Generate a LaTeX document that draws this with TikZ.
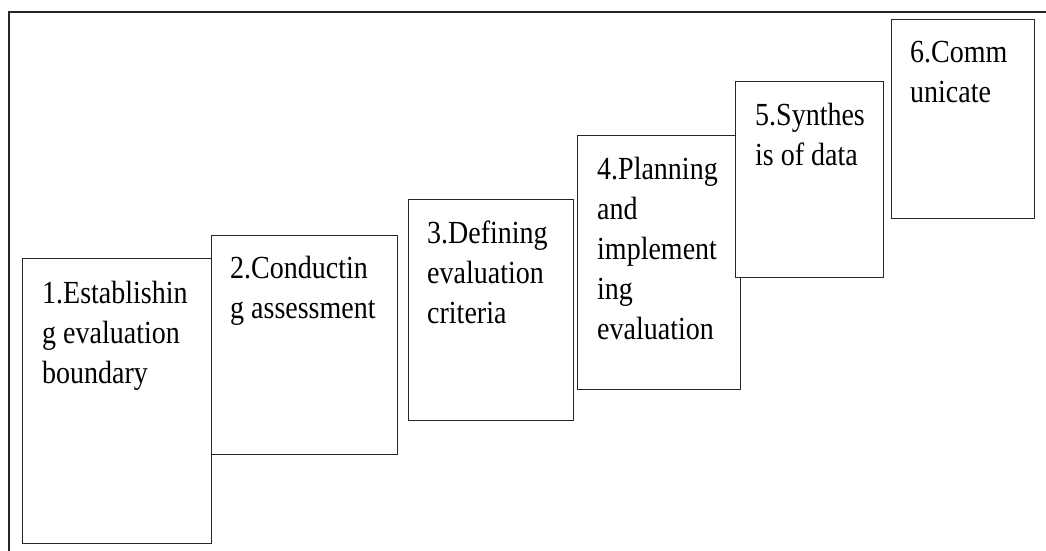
\documentclass[tikz,border=0pt]{standalone}
\usepackage{fontspec}
\setmainfont{Liberation Serif}
\usepackage{tikz}

\begin{document}
\begin{tikzpicture}[x=1pt,y=-1pt,
		stepbox/.style={shape=rectangle,draw=black!85,fill=white,line width=1.4pt,anchor=north west,inner sep=0pt},
		steptext/.style={anchor=north west,inner sep=0pt,align=left,yscale=1.15,transform shape,font=\fontsize{28}{34.8}\selectfont}]
		\useasboundingbox (0,0) rectangle (1046,551);
		\draw [line width=1.4pt,draw=black!85] (9,551) -- (9,12) -- (1046,12);
		\node [stepbox,minimum width=189pt,minimum height=285pt] (S1) at (22,258) {};
		\node [steptext] (L1) at ([shift={(20,23)}]S1.north west) {1.Establishin\\g evaluation\\boundary};
		\node [stepbox,minimum width=186pt,minimum height=219pt] (S2) at (211,235) {};
		\node [steptext] (L2) at ([shift={(19,21)}]S2.north west) {2.Conductin\\g assessment};
		\node [stepbox,minimum width=165pt,minimum height=221pt] (S3) at (408,199) {};
		\node [steptext] (L3) at ([shift={(19,22)}]S3.north west) {3.Defining\\evaluation\\criteria};
		\node [stepbox,minimum width=163pt,minimum height=254pt] (S4) at (577,135) {};
		\node [steptext] (L4) at ([shift={(20,22)}]S4.north west) {4.Planning\\and\\implement\\ing\\evaluation};
		\node [stepbox,minimum width=148pt,minimum height=196pt] (S5) at (735,81) {};
		\node [steptext] (L5) at ([shift={(20,22)}]S5.north west) {5.Synthes\\is of data};
		\node [stepbox,minimum width=143pt,minimum height=199pt] (S6) at (891,19) {};
		\node [steptext] (L6) at ([shift={(19,22)}]S6.north west) {6.Comm\\unicate};
	\end{tikzpicture}
\end{document}
